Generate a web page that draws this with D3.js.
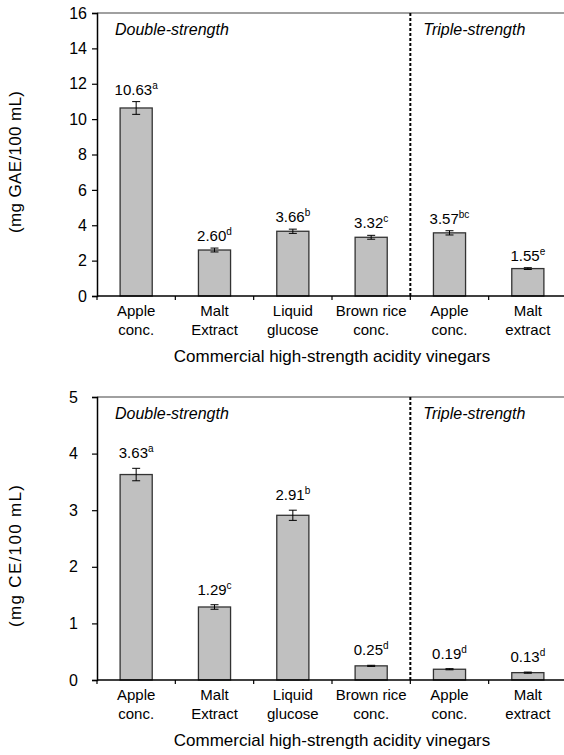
<!DOCTYPE html>
<html lang="en">
  <head>
    <meta charset="utf-8"/>
    <script src="https://d3js.org/d3.v7.min.js"></script>
    <style>
      body { margin: 0; background: #fff; }
      svg { display: block; font-family: Arial, "Liberation Sans", sans-serif; }
    </style>
  </head>
  <body>
    <svg id="svg_main"></svg>
    <script>
      const width = 564;
      const height = 755;

      // categories (two lines each), shared by both panels
      const catIds = ["d-apple", "d-malt", "d-glucose", "d-brownrice", "t-apple", "t-malt"];
      const catLines = [["Apple", "conc."], ["Malt", "Extract"], ["Liquid", "glucose"],
                        ["Brown rice", "conc."], ["Apple", "conc."], ["Malt", "extract"]];
      const groupLabels = ["Double-strength", "Triple-strength"];
      const groupStart = [0, 4];

      // top panel (mg GAE/100 mL)
      const gaeValues = [10.63, 2.60, 3.66, 3.32, 3.57, 1.55];
      const gaeErrors = [0.36, 0.11, 0.12, 0.11, 0.12, 0.05];
      const gaeLetters = ["a", "d", "b", "c", "bc", "e"];
      const gaeTicks = [0, 2, 4, 6, 8, 10, 12, 14, 16];

      // bottom panel (mg CE/100 mL)
      const ceValues = [3.63, 1.29, 2.91, 0.25, 0.19, 0.13];
      const ceErrors = [0.11, 0.04, 0.09, 0.01, 0.01, 0.01];
      const ceLetters = ["a", "c", "b", "d", "d", "d"];
      const ceTicks = [0, 1, 2, 3, 4, 5];

      const xTitle = "Commercial high-strength acidity vinegars";

      const svg = d3.select("#svg_main")
          .attr("width", width)
          .attr("height", height);

      const xScale = d3.scaleBand()
          .domain(catIds)
          .range([97, 567])
          .paddingInner(0.59)
          .paddingOuter(0.295);

      function drawPanel(opt) {
        const yScale = d3.scaleLinear()
            .domain([0, opt.max])
            .range([opt.bottom, opt.top]);

        const g = svg.append("g");

        // top border (grey)
        g.append("line")
            .attr("x1", xScale.range()[0]).attr("x2", width)
            .attr("y1", yScale(opt.max)).attr("y2", yScale(opt.max))
            .attr("stroke", "#808080").attr("stroke-width", 1.5);

        // bars
        const rows = catIds.map((id, i) => ({id: id, v: opt.values[i], e: opt.errors[i], l: opt.letters[i]}));
        g.selectAll("rect.bar").data(rows).enter().append("rect")
            .attr("class", "bar")
            .attr("x", d => xScale(d.id))
            .attr("width", xScale.bandwidth())
            .attr("y", d => yScale(d.v))
            .attr("height", d => yScale(0) - yScale(d.v))
            .attr("fill", "#c0c0c0")
            .attr("stroke", "#333")
            .attr("stroke-width", 1.3);

        // error bars
        const eb = g.selectAll("g.err").data(rows).enter().append("g")
            .attr("class", "err")
            .attr("stroke", "#000").attr("stroke-width", 1);
        const cx = d => xScale(d.id) + xScale.bandwidth() / 2;
        eb.append("line")
            .attr("x1", cx).attr("x2", cx)
            .attr("y1", d => yScale(d.v + d.e)).attr("y2", d => yScale(d.v - d.e));
        eb.append("line")
            .attr("x1", d => cx(d) - 4).attr("x2", d => cx(d) + 4)
            .attr("y1", d => yScale(d.v + d.e)).attr("y2", d => yScale(d.v + d.e));
        eb.append("line")
            .attr("x1", d => cx(d) - 4).attr("x2", d => cx(d) + 4)
            .attr("y1", d => yScale(d.v - d.e)).attr("y2", d => yScale(d.v - d.e));

        // value labels with superscript letters
        const lab = g.selectAll("text.val").data(rows).enter().append("text")
            .attr("class", "val")
            .attr("x", cx)
            .attr("y", d => yScale(d.v + d.e) - opt.labelGap)
            .attr("text-anchor", "middle")
            .attr("font-size", 15);
        lab.append("tspan").text(d => d.v.toFixed(2));
        lab.append("tspan").attr("font-size", 10).attr("dy", -6).text(d => d.l);

        // dashed divider between double and triple strength
        const xDiv = xScale.range()[0] + xScale.step() * groupStart[1];
        g.append("line")
            .attr("x1", xDiv).attr("x2", xDiv)
            .attr("y1", yScale(opt.max)).attr("y2", yScale(0))
            .attr("stroke", "#000").attr("stroke-width", 2)
            .attr("stroke-dasharray", "3,2");

        // group labels
        g.selectAll("text.grp").data(groupLabels).enter().append("text")
            .attr("class", "grp")
            .attr("x", (d, i) => xScale.range()[0] + xScale.step() * groupStart[i] + (i === 0 ? 18 : 13))
            .attr("y", yScale(opt.max) + 22)
            .attr("font-size", 16)
            .attr("font-style", "italic")
            .text(d => d);

        // y axis
        const yAxis = d3.axisLeft(yScale).tickValues(opt.ticks).tickFormat(d3.format("d"))
            .tickSize(5).tickPadding(opt.tickPad);
        const yAxis_g = g.append("g")
            .attr("transform", "translate(" + xScale.range()[0] + ",0)")
            .call(yAxis);
        yAxis_g.select(".domain").attr("stroke", "#000").attr("stroke-width", 1.5);
        yAxis_g.selectAll(".tick line").attr("stroke", "#000").attr("stroke-width", 1.2);
        yAxis_g.selectAll(".tick text")
            .attr("font-size", 16).attr("font-family", null).attr("fill", "#000");

        // x axis (line + tick marks at band edges)
        g.append("line")
            .attr("x1", xScale.range()[0]).attr("x2", width)
            .attr("y1", yScale(0)).attr("y2", yScale(0))
            .attr("stroke", "#000").attr("stroke-width", 1.5);
        g.selectAll("line.xt").data(d3.range(catIds.length)).enter().append("line")
            .attr("class", "xt")
            .attr("x1", i => xScale.range()[0] + xScale.step() * i)
            .attr("x2", i => xScale.range()[0] + xScale.step() * i)
            .attr("y1", yScale(0)).attr("y2", yScale(0) + 4)
            .attr("stroke", "#000").attr("stroke-width", 1.2);

        // category labels
        const cl = g.selectAll("text.cat").data(catIds).enter().append("text")
            .attr("class", "cat")
            .attr("text-anchor", "middle")
            .attr("font-size", 15)
            .attr("y", yScale(0) + 20);
        cl.selectAll("tspan").data((d, i) => catLines[i].map(t => ({t: t, x: xScale(d) + xScale.bandwidth() / 2})))
          .enter().append("tspan")
            .attr("x", d => d.x)
            .attr("dy", (d, j) => j === 0 ? 0 : 19)
            .text(d => d.t);

        // x title
        g.append("text")
            .attr("x", (xScale.range()[0] + xScale.range()[1]) / 2)
            .attr("y", yScale(0) + 66)
            .attr("text-anchor", "middle")
            .attr("font-size", 17)
            .text(xTitle);

        // y title
        g.append("text")
            .attr("transform", "translate(21," + opt.yLabelCenter + ") rotate(-90)")
            .attr("text-anchor", "middle")
            .attr("font-size", 17)
            .attr("textLength", 142)
            .attr("lengthAdjust", "spacing")
            .text(opt.yLabel);
      }

      drawPanel({values: gaeValues, errors: gaeErrors, letters: gaeLetters, ticks: gaeTicks,
                 max: 16, top: 13, bottom: 296, labelGap: 7, tickPad: 5,
                 yLabel: "(mg GAE/100 mL)", yLabelCenter: 162});

      drawPanel({values: ceValues, errors: ceErrors, letters: ceLetters, ticks: ceTicks,
                 max: 5, top: 397, bottom: 680, labelGap: 10, tickPad: 14,
                 yLabel: "(mg CE/100 mL)", yLabelCenter: 556});
    </script>
  </body>
</html>
